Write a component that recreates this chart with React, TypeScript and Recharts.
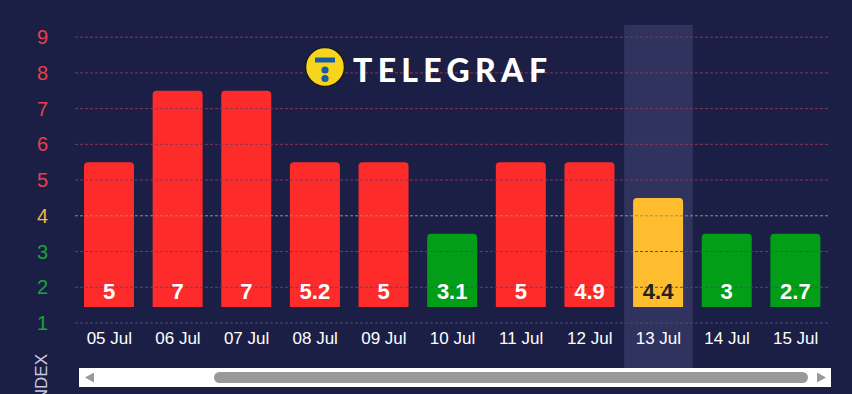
import React from "react";
import {
  BarChart,
  Bar,
  XAxis,
  YAxis,
  Cell,
  LabelList,
  ReferenceLine,
  ReferenceArea,
} from "recharts";

// ---- data ----
const categories = [
  "05 Jul", "06 Jul", "07 Jul", "08 Jul", "09 Jul", "10 Jul",
  "11 Jul", "12 Jul", "13 Jul", "14 Jul", "15 Jul",
];
const indexValues = [5, 7, 7, 5.2, 5, 3.1, 5, 4.9, 4.4, 3, 2.7];
const levels = [5, 7, 7, 5, 5, 3, 5, 5, 4, 3, 3];
const barBase = 1.45;
const yTicks = [1, 2, 3, 4, 5, 6, 7, 8, 9];
const highlighted = "13 Jul";

const RED = "#fe2b2b";
const YELLOW = "#fdbd2e";
const GREEN = "#039e17";
const BG = "#1c1f45";

const levelColor = (lvl: number) => (lvl >= 5 ? RED : lvl === 4 ? YELLOW : GREEN);
const tickColor = (t: number) => (t >= 5 ? "#ea3f4b" : t === 4 ? "#f3b83a" : "#16a538");
const gridColor = (t: number) => (t >= 5 ? "#873659" : t === 4 ? "#948f70" : "#4a4c78");

const data = categories.map((c, i) => ({
  day: c,
  value: indexValues[i],
  level: levels[i],
  range: [barBase, levels[i] + 0.5],
}));

const FONT = "'Liberation Sans', Arial, sans-serif";

const YTick = (props: any) => {
  const { y, payload } = props;
  return (
    <text x={48} y={y} dy={7} textAnchor="end" fontSize={20} fontFamily={FONT} fill={tickColor(payload.value)}>
      {payload.value}
    </text>
  );
};

const XTick = (props: any) => {
  const { x, y, payload } = props;
  return (
    <text x={x} y={y} dy={13} textAnchor="middle" fontSize={17} fontFamily={FONT} fill="#ffffff">
      {payload.value}
    </text>
  );
};

const BarValue = (props: any) => {
  const { x, y, width, height, index } = props;
  const d = data[index];
  return (
    <text
      x={x + width / 2}
      y={y + height - 8}
      textAnchor="middle"
      fontSize={22}
      fontWeight={700}
      fontFamily={FONT}
      fill={d.level === 4 ? "#222222" : "#ffffff"}
    >
      {d.value}
    </text>
  );
};

const HighlightShape = (props: any) => {
  const { x, y, width, height } = props;
  return <rect x={x} y={y} width={width} height={height + 45} fill="#30335d" />;
};

export default function App() {
  return (
    <div style={{ position: "relative", width: 852, height: 394, background: BG }}>
      <style>{"body{margin:0;background:" + BG + "}"}</style>
      <BarChart
        width={852}
        height={394}
        data={data}
        margin={{ top: 25, right: 22, left: 0, bottom: 0 }}
        barSize={50}
      >
        <ReferenceArea x1={highlighted} x2={highlighted} shape={HighlightShape} ifOverflow="visible" />
        {yTicks.map((t) => (
          <ReferenceLine key={t} y={t} stroke={gridColor(t)} strokeDasharray="3 2" strokeWidth={1} />
        ))}
        <XAxis
          dataKey="day"
          axisLine={false}
          tickLine={false}
          height={71}
          interval={0}
          tick={<XTick />}
        />
        <YAxis
          type="number"
          domain={[1, 9.34]}
          ticks={yTicks}
          width={75}
          axisLine={false}
          tickLine={false}
          tick={<YTick />}
          allowDataOverflow
        />
        <Bar dataKey="range" isAnimationActive={false} radius={[4, 4, 0, 0]}>
          {data.map((d, i) => (
            <Cell key={i} fill={levelColor(d.level)} />
          ))}
          <LabelList dataKey="value" content={<BarValue />} />
        </Bar>
      </BarChart>
      <svg width={852} height={394} style={{ position: "absolute", left: 0, top: 0, pointerEvents: "none" }}>
        {/* logo */}
        <circle cx={325} cy={67} r={19.5} fill="#f7d51d" stroke="#1a1a1a" strokeWidth={1.5} />
        <rect x={315} y={57.5} width={20} height={5} fill="#1d5aa6" />
        <circle cx={325} cy={70} r={3.6} fill="#1d5aa6" />
        <circle cx={325} cy={78.5} r={3.6} fill="#1d5aa6" />
        <text
          x={353}
          y={82}
          fontSize={32}
          fontWeight={900}
          fontFamily="Lato, 'Open Sans', sans-serif"
          fill="#ffffff"
          textLength={194}
          lengthAdjust="spacing"
        >
          TELEGRAF
        </text>
        {/* axis title */}
        <text
          x={0}
          y={0}
          transform="translate(47 380) rotate(-90)"
          textAnchor="middle"
          fontSize={17}
          fontFamily={FONT}
          fill="#c8c8e0"
        >
          INDEX
        </text>
        {/* scrollbar */}
        <rect x={79} y={368} width={752} height={19} fill="#ffffff" />
        <polygon points="85,377.5 94,372.5 94,382.5" fill="#999999" />
        <rect x={214} y={372} width={594} height={11} rx={5.5} fill="#999999" />
        <polygon points="817,372.5 817,382.5 826,377.5" fill="#999999" />
      </svg>
    </div>
  );
}
